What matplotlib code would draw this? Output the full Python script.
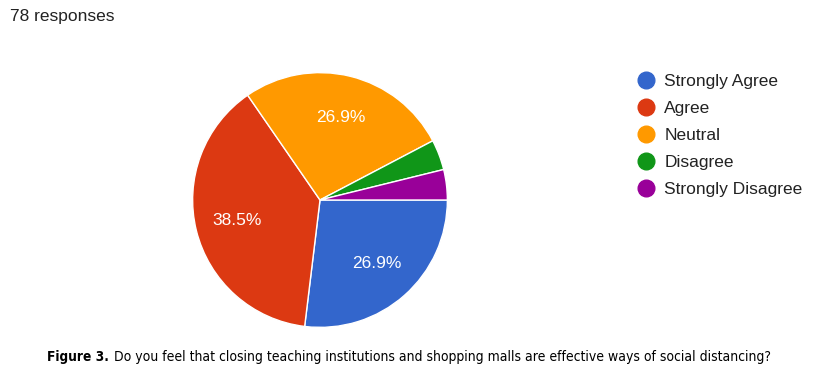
import matplotlib.pyplot as plt
from matplotlib.lines import Line2D

# ==================================
# Dados
# ==================================

categorias = ["Strongly Agree", "Agree", "Neutral", "Disagree", "Strongly Disagree"]
respostas = [21, 30, 21, 3, 3]
cores = ["#3366cc", "#dc3912", "#ff9900", "#109618", "#990099"]

total = sum(respostas)

legenda_titulo = "Figure 3."
legenda_texto = "Do you feel that closing teaching institutions and shopping malls are effective ways of social distancing?"

# ==================================
# Figura
# ==================================

fig = plt.figure(figsize=(8.13, 3.85), dpi=100)
plt.rcParams['font.family'] = ['Liberation Sans', 'DejaVu Sans']

ax = fig.add_axes([192 / 813, 57 / 385, 256 / 813, 256 / 385])


def rotulo(p):
    return f"{p:.1f}%" if p > 5 else ""


wedges, textos, autotextos = ax.pie(
    respostas,
    colors=cores,
    startangle=0,
    counterclock=False,
    autopct=rotulo,
    pctdistance=0.67,
    wedgeprops=dict(edgecolor="white", linewidth=1),
    textprops=dict(color="white", fontsize=12.5)
)
ax.set_xlim(-1.005, 1.005)
ax.set_ylim(-1.005, 1.005)
ax.set_aspect("equal")

# ==================================
# Legenda
# ==================================

handles = [
    Line2D([0], [0], marker="o", linestyle="", markersize=12,
           markerfacecolor=c, markeredgecolor=c)
    for c in cores
]

fig.legend(
    handles,
    categorias,
    loc="upper left",
    bbox_to_anchor=(620 / 813, 1 - 58 / 385),
    frameon=False,
    fontsize=12.5,
    labelspacing=0.68,
    handletextpad=0.45,
    handlelength=1.2,
    labelcolor="#222222"
)

# ==================================
# Textos
# ==================================

fig.text(10 / 813, 1 - 17 / 385, f"{total} responses",
         fontsize=12.5, color="#222222", va="center", ha="left")

t1 = fig.text(47 / 813, 1 - 357 / 385, legenda_titulo,
              fontsize=9.8, va="center", ha="left", color="black",
              family=['DejaVu Sans'], fontweight="bold",
              fontstretch="condensed")

renderer = fig.canvas.get_renderer()
bb = t1.get_window_extent(renderer)

fig.text(bb.x1 / 813 + 5 / 813, 1 - 357 / 385, legenda_texto,
         fontsize=10, va="center", ha="left", color="black",
         family=['DejaVu Sans'], fontstretch="condensed")

fig.savefig("out.png", dpi=100)
